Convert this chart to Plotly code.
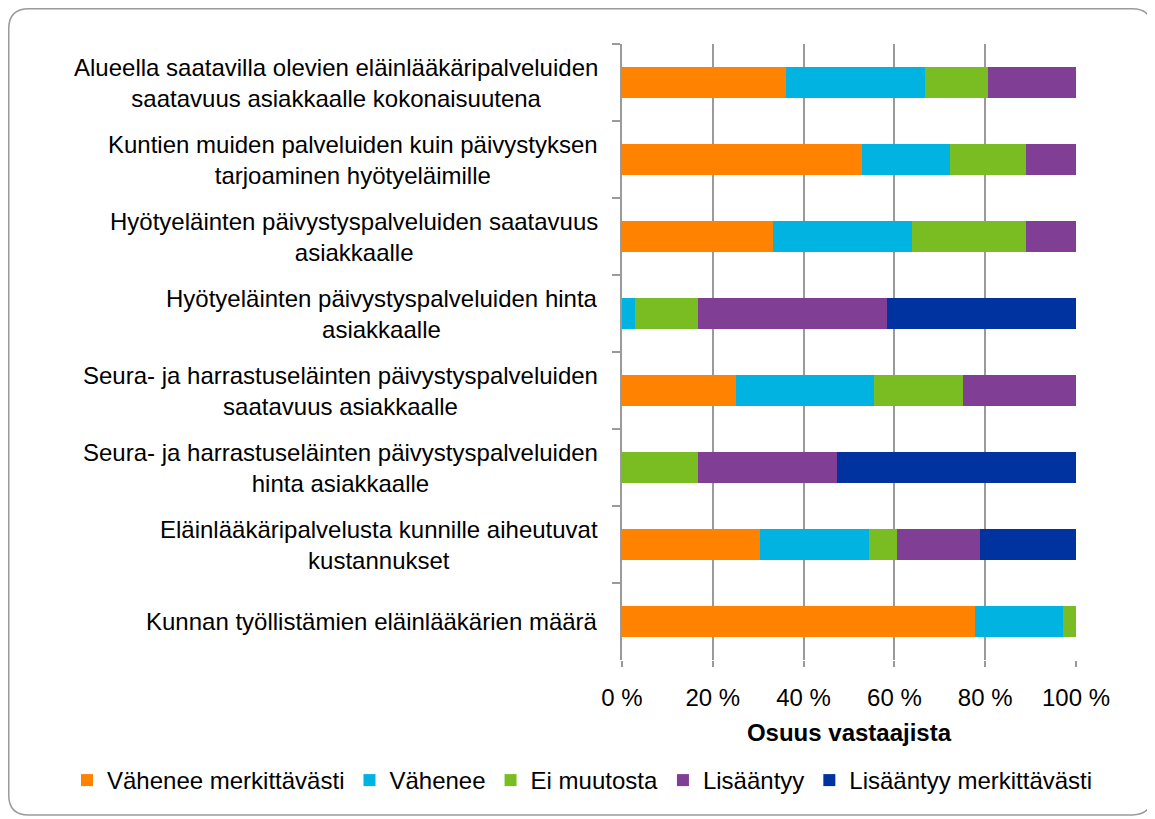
import plotly.graph_objects as go

categories = [
    "Alueella saatavilla olevien eläinlääkäripalveluiden<br>saatavuus asiakkaalle kokonaisuutena",
    "Kuntien muiden palveluiden kuin päivystyksen<br>tarjoaminen hyötyeläimille",
    "Hyötyeläinten päivystyspalveluiden saatavuus<br>asiakkaalle",
    "Hyötyeläinten päivystyspalveluiden hinta<br>asiakkaalle",
    "Seura- ja harrastuseläinten päivystyspalveluiden<br>saatavuus asiakkaalle",
    "Seura- ja harrastuseläinten päivystyspalveluiden<br>hinta asiakkaalle",
    "Eläinlääkäripalvelusta kunnille aiheutuvat<br>kustannukset",
    "Kunnan työllistämien eläinlääkärien määrä",
]

series_names = ["Vähenee merkittävästi", "Vähenee", "Ei muutosta", "Lisääntyy", "Lisääntyy merkittävästi"]

vahenee_merkittavasti = [36.1, 52.8, 33.3, 0.0, 25.0, 0.0, 30.3, 77.8]
vahenee = [30.6, 19.4, 30.6, 2.8, 30.6, 0.0, 24.2, 19.4]
ei_muutosta = [13.9, 16.7, 25.0, 13.9, 19.4, 16.7, 6.1, 2.8]
lisaantyy = [19.4, 11.1, 11.1, 41.7, 25.0, 30.6, 18.2, 0.0]
lisaantyy_merkittavasti = [0.0, 0.0, 0.0, 41.7, 0.0, 52.8, 21.2, 0.0]

colors = ["#FF8200", "#00B3E1", "#7ABD22", "#803F95", "#0033A0"]

x_ticks = [0, 20, 40, 60, 80, 100]
x_ticktext = ["0 %", "20 %", "40 %", "60 %", "80 %", "100 %"]

FONT = "Liberation Sans"
FS = 24

# the page body adds an 8px offset; the figure is sized to fill the window
OFF = 8
W, H = 1155 - OFF, 819 - OFF
PL, PR, PT, PB = 622, 1076, 44, 660          # plot area in window pixels
L, R, T, B = PL - OFF, 1155 - PR, PT - OFF, 819 - PB
PW, PH = PR - PL, PB - PT

fig = go.Figure()
for name, vals, col in zip(series_names,
                           [vahenee_merkittavasti, vahenee, ei_muutosta, lisaantyy, lisaantyy_merkittavasti],
                           colors):
    fig.add_trace(go.Bar(
        y=categories, x=vals, name=name, orientation="h",
        marker=dict(color=col, line=dict(width=0)),
        hoverinfo="skip",
    ))

# category labels as centered multi-line annotations
for c in categories:
    fig.add_annotation(
        x=0, xref="paper", y=c, yref="y", text=c, showarrow=False,
        xanchor="right", yanchor="middle", align="center", xshift=-22,
        font=dict(family=FONT, size=FS, color="#000000"),
    )

def px(X):
    return (X - PL) / PW

def py(Y):
    return (PB - Y) / PH

# rounded border of chart area
x0, x1, y0, y1, r = 8.75, 1152, 8.75, 815, 20
path = (
    f"M {px(x0 + r)},{py(y0)} L {px(x1 - r)},{py(y0)} "
    f"Q {px(x1)},{py(y0)} {px(x1)},{py(y0 + r)} "
    f"L {px(x1)},{py(y1 - r)} Q {px(x1)},{py(y1)} {px(x1 - r)},{py(y1)} "
    f"L {px(x0 + r)},{py(y1)} Q {px(x0)},{py(y1)} {px(x0)},{py(y1 - r)} "
    f"L {px(x0)},{py(y0 + r)} Q {px(x0)},{py(y0)} {px(x0 + r)},{py(y0)} Z"
)
fig.add_shape(type="path", path=path, xref="paper", yref="paper",
              line=dict(color="#9a9a9a", width=1.5), layer="below")

fig.update_layout(
    width=W, height=H,
    margin=dict(l=L, r=R, t=T, b=B, autoexpand=False),
    barmode="stack",
    bargap=0.61,
    plot_bgcolor="white",
    paper_bgcolor="white",
    font=dict(family=FONT, size=FS, color="#000000"),
    xaxis=dict(
        range=[0, 100], tickvals=x_ticks, ticktext=x_ticktext,
        showgrid=True, gridcolor="#9a9a9a", gridwidth=1.5,
        zeroline=False, showline=False, automargin=True,
        ticks="outside", ticklen=6, tickcolor="#9a9a9a", tickwidth=1.5,
        ticklabelstandoff=10,
        tickfont=dict(family=FONT, size=FS, color="#000000"),
        title=dict(text="<b>Osuus vastaajista</b>", standoff=14,
                   font=dict(family=FONT, size=FS, color="#000000")),
    ),
    yaxis=dict(
        categoryorder="array", categoryarray=categories, autorange="reversed",
        showticklabels=False, showgrid=False, zeroline=False, automargin=False,
        showline=True, linecolor="#9a9a9a", linewidth=1.5,
        ticks="outside", tickson="boundaries", ticklen=8,
        tickcolor="#9a9a9a", tickwidth=1.5,
    ),
    legend=dict(
        orientation="h",
        x=px(67), xanchor="left", y=py(758), yanchor="top",
        traceorder="normal", font=dict(family=FONT, size=FS, color="#000000"),
        itemwidth=30,
    ),
    showlegend=True,
)

fig.write_html("out.html")
